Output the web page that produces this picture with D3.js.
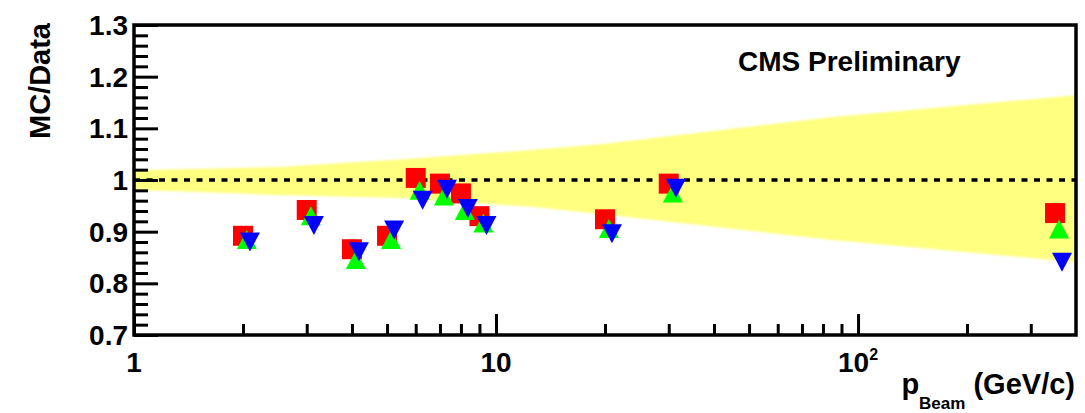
<!DOCTYPE HTML>
<html>
<head>
<meta charset="utf-8">
<title>MC/Data</title>
<script src="https://d3js.org/d3.v7.min.js"></script>
<style>
  body { margin: 0; background: #ffffff; }
  text { font-family: "Liberation Sans", Arial, sans-serif; font-weight: bold; fill: #000000; }
</style>
</head>

<body>
<script>

"use strict";

// momentum points (GeV/c), per series (small offsets as in the plot)
const pRed   = [2, 3, 4, 5, 6, 7, 8, 9, 20, 30, 350];
const pGreen = [2.05, 3.08, 4.1, 5.13, 6.15, 7.18, 8.2, 9.23, 20.5, 30.8, 359];
const pBlue  = [2.09, 3.14, 4.18, 5.23, 6.27, 7.32, 8.36, 9.41, 20.9, 31.4, 366];

const redValues   = [0.892, 0.942, 0.866, 0.892, 1.004, 0.993, 0.974, 0.930, 0.924, 0.993, 0.936];
const greenValues = [0.885, 0.931, 0.846, 0.885, 0.980, 0.969, 0.941, 0.917, 0.906, 0.975, 0.905];
const blueValues  = [0.880, 0.912, 0.861, 0.903, 0.961, 0.982, 0.945, 0.912, 0.896, 0.984, 0.841];

// yellow uncertainty band
const bandP     = [1, 2.5, 5.5, 12.5, 20, 85, 400];
const bandUpper = [1.019, 1.025, 1.040, 1.058, 1.070, 1.122, 1.164];
const bandLower = [0.981, 0.971, 0.965, 0.948, 0.933, 0.884, 0.841];

const xMajor = [1, 10, 100];
const xLabelBase = ["1", "10", "10"];
const xLabelExp = ["", "", "2"];
const xMinor = [2, 3, 4, 5, 6, 7, 8, 9, 20, 30, 40, 50, 60, 70, 80, 90, 200, 300];

const yMajor = [0.7, 0.8, 0.9, 1.0, 1.1, 1.2, 1.3];
const yLabels = ["0.7", "0.8", "0.9", "1", "1.1", "1.2", "1.3"];
const yMinor = d3.range(0.72, 1.3, 0.02).filter((v) => Math.abs(v * 10 - Math.round(v * 10)) > 0.01);

const frameL = 134, frameR = 1076, frameT = 25, frameB = 335;

const x = d3.scaleLog().domain([1, 400]).range([frameL, frameR]);
const y = d3.scaleLinear().domain([0.7, 1.3]).range([frameB, frameT]);

const svg = d3.select("body").append("svg")
  .attr("width", 1085)
  .attr("height", 413);

const defs = svg.append("defs");
defs.append("filter").attr("id", "soft")
  .append("feGaussianBlur").attr("stdDeviation", 1.2);

// band
const band = bandP.map((p, i) => ({p: p, lo: bandLower[i], hi: bandUpper[i]}));
svg.append("path")
  .datum(band)
  .attr("d", d3.area()
    .x((d) => x(d.p))
    .y0((d) => y(d.lo))
    .y1((d) => y(d.hi)))
  .attr("fill", "#ffff80")
  .attr("filter", "url(#soft)");

// dashed line at 1
svg.append("line")
  .attr("x1", frameL).attr("x2", frameR)
  .attr("y1", y(1)).attr("y2", y(1))
  .attr("stroke", "#000000")
  .attr("stroke-width", 3.5)
  .attr("stroke-dasharray", "6,6.5");

// ticks (pointing inward)
svg.append("g").attr("transform", "translate(0," + frameB + ")")
  .call(d3.axisBottom(x).tickValues(xMajor).tickSize(-21).tickFormat(""))
  .call((g) => g.select(".domain").remove())
  .call((g) => g.selectAll("line").attr("stroke-width", 3));
svg.append("g").attr("transform", "translate(0," + frameB + ")")
  .call(d3.axisBottom(x).tickValues(xMinor).tickSize(-11).tickFormat(""))
  .call((g) => g.select(".domain").remove())
  .call((g) => g.selectAll("line").attr("stroke-width", 3));

svg.append("g").attr("transform", "translate(" + frameL + ",0)")
  .call(d3.axisLeft(y).tickValues(yMajor).tickSize(-24).tickFormat(""))
  .call((g) => g.select(".domain").remove())
  .call((g) => g.selectAll("line").attr("stroke-width", 3));
svg.append("g").attr("transform", "translate(" + frameL + ",0)")
  .call(d3.axisLeft(y).tickValues(yMinor).tickSize(-14).tickFormat(""))
  .call((g) => g.select(".domain").remove())
  .call((g) => g.selectAll("line").attr("stroke-width", 3));

// frame
svg.append("rect")
  .attr("x", frameL).attr("y", frameT)
  .attr("width", frameR - frameL).attr("height", frameB - frameT)
  .attr("fill", "none")
  .attr("stroke", "#000000")
  .attr("stroke-width", 3.5);

// tick labels
svg.append("g").selectAll("text")
  .data(yMajor)
  .enter()
  .append("text")
  .attr("x", frameL - 6)
  .attr("y", (d) => y(d) + 10)
  .attr("text-anchor", "end")
  .attr("font-size", 28)
  .text((d, i) => yLabels[i]);

const xl = svg.append("g").selectAll("text")
  .data(xMajor)
  .enter()
  .append("text")
  .attr("x", (d) => x(d))
  .attr("y", 372)
  .attr("text-anchor", "middle")
  .attr("font-size", 28);
xl.append("tspan").text((d, i) => xLabelBase[i]);
xl.append("tspan")
  .attr("font-size", 16)
  .attr("dy", -12)
  .text((d, i) => xLabelExp[i]);

// markers
function drawSeries(ps, vals, shape, color, flip) {
  svg.append("g").selectAll("path")
    .data(ps.map((p, i) => ({p: p, v: vals[i]})))
    .enter()
    .append("path")
    .attr("transform", (d) => "translate(" + x(d.p) + "," + y(d.v) + ")" + (flip ? " rotate(180)" : ""))
    .attr("d", shape)
    .attr("fill", color);
}
const square = "M-10,-10H10V10H-10Z";
const triangle = "M0,-9.5L10,9.5L-10,9.5Z";
drawSeries(pRed, redValues, square, "#ff0000", false);
drawSeries(pGreen, greenValues, triangle, "#00ff00", false);
drawSeries(pBlue, blueValues, triangle, "#0000ff", true);

// texts
svg.append("text")
  .attr("x", 738).attr("y", 71)
  .attr("font-size", 28)
  .text("CMS Preliminary");

svg.append("text")
  .attr("transform", "translate(50,23) rotate(-90)")
  .attr("text-anchor", "end")
  .attr("font-size", 29)
  .text("MC/Data");

const xt = svg.append("text")
  .attr("x", 1075).attr("y", 394)
  .attr("text-anchor", "end")
  .attr("font-size", 29);
xt.append("tspan").text("p");
xt.append("tspan").attr("font-size", 17).attr("dy", 15).text("Beam");
xt.append("tspan").attr("dy", -15).text(" (GeV/c)");

</script>
</body>
</html>
